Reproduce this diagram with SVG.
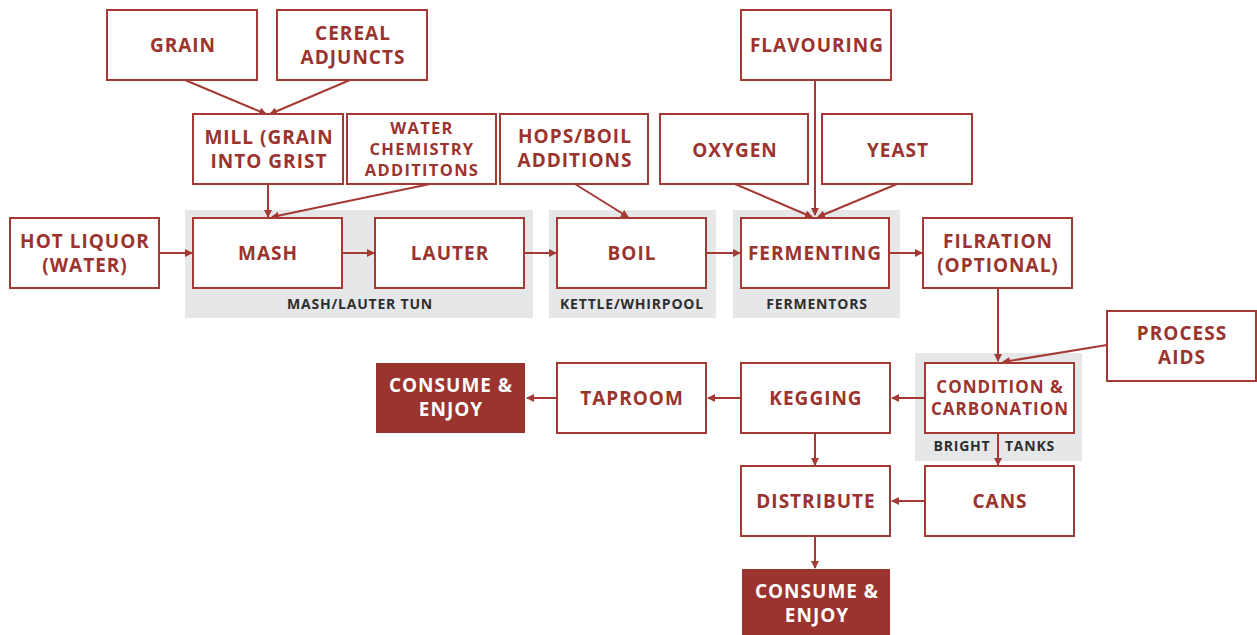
<svg xmlns="http://www.w3.org/2000/svg" width="1257" height="635" viewBox="0 0 1257 635">
<defs>
<style>
.b{fill:#fff;stroke:#a53a35;stroke-width:2}
.f{fill:#9b332e}
.g{fill:#e6e7e8}
.t{font-family:"Open Sans","Liberation Sans",sans-serif;font-weight:700;font-size:19px;letter-spacing:1px;fill:#9b332e;text-anchor:middle;dominant-baseline:central}
.tw{font-family:"Open Sans","Liberation Sans",sans-serif;font-weight:700;font-size:19px;letter-spacing:1px;fill:#fff;text-anchor:middle;dominant-baseline:central}
.s{font-size:17px}
.w3{font-size:16.5px;letter-spacing:1.3px}
.gl{font-family:"Open Sans","Liberation Sans",sans-serif;font-weight:700;font-size:14px;letter-spacing:0.8px;fill:#2e2e2e;text-anchor:middle;dominant-baseline:central}
.c{fill:none;stroke:#a53a35;stroke-width:2;marker-end:url(#ah)}
</style>
<marker id="ah" markerUnits="userSpaceOnUse" markerWidth="8" markerHeight="8" refX="7" refY="4" orient="auto">
<path d="M0,0 L8,4 L0,8 z" fill="#a53a35"/>
</marker>
</defs>
<rect width="1257" height="635" fill="#fff"/>
<g id="groups">
<rect class="g" x="185" y="210" width="348" height="108"/>
<text class="gl" x="360" y="303">MASH/LAUTER TUN</text>
<rect class="g" x="549" y="210" width="167" height="108"/>
<text class="gl" x="632" y="303">KETTLE/WHIRPOOL</text>
<rect class="g" x="733" y="210" width="167" height="108"/>
<text class="gl" x="817" y="303">FERMENTORS</text>
<rect class="g" x="915" y="353" width="167" height="108"/>
<text class="gl" x="962" y="445">BRIGHT</text>
<text class="gl" x="1030" y="445">TANKS</text>
</g>
<g id="connectors">
<line class="c" x1="185" y1="80" x2="266" y2="114"/>
<line class="c" x1="350" y1="80" x2="270" y2="114"/>
<line class="c" x1="268" y1="184" x2="268" y2="217"/>
<line class="c" x1="430" y1="184" x2="272" y2="217"/>
<line class="c" x1="159" y1="253" x2="192" y2="253"/>
<line class="c" x1="342" y1="253" x2="374" y2="253"/>
<line class="c" x1="524" y1="253" x2="556" y2="253"/>
<line class="c" x1="575" y1="184" x2="628" y2="217"/>
<line class="c" x1="706" y1="253" x2="740" y2="253"/>
<line class="c" x1="815" y1="80" x2="815" y2="215"/>
<line class="c" x1="735" y1="184" x2="812" y2="217"/>
<line class="c" x1="897" y1="184" x2="818" y2="217"/>
<line class="c" x1="889" y1="253" x2="922" y2="253"/>
<line class="c" x1="998" y1="288" x2="998" y2="361"/>
<line class="c" x1="1107" y1="345" x2="1003" y2="362"/>
<line class="c" x1="925" y1="398" x2="892" y2="398"/>
<line class="c" x1="741" y1="398" x2="708" y2="398"/>
<line class="c" x1="557" y1="398" x2="527" y2="398"/>
<line class="c" x1="998" y1="433" x2="998" y2="465"/>
<line class="c" x1="815" y1="433" x2="815" y2="465"/>
<line class="c" x1="925" y1="501" x2="892" y2="501"/>
<line class="c" x1="815" y1="536" x2="815" y2="568"/>
</g>
<g id="grain"><rect class="b" x="107" y="10" width="150" height="70"/><text class="t" x="183" y="45">GRAIN</text></g>
<g id="cereal"><rect class="b" x="277" y="10" width="150" height="70"/><text class="t" x="353" y="33">CEREAL</text><text class="t" x="353" y="57">ADJUNCTS</text></g>
<g id="mill"><rect class="b" x="193" y="114" width="150" height="70"/><text class="t" x="269" y="137">MILL (GRAIN</text><text class="t" x="269" y="161">INTO GRIST</text></g>
<g id="water"><rect class="b" x="347" y="114" width="149" height="70"/><text class="t w3" x="422" y="127">WATER</text><text class="t w3" x="422" y="148">CHEMISTRY</text><text class="t w3" x="422" y="169">ADDITITONS</text></g>
<g id="hops"><rect class="b" x="500" y="114" width="148" height="70"/><text class="t" x="575" y="136">HOPS/BOIL</text><text class="t" x="575" y="160">ADDITIONS</text></g>
<g id="oxygen"><rect class="b" x="660" y="114" width="148" height="70"/><text class="t" x="735" y="150">OXYGEN</text></g>
<g id="yeast"><rect class="b" x="822" y="114" width="150" height="70"/><text class="t" x="898" y="150">YEAST</text></g>
<g id="flavouring"><rect class="b" x="741" y="10" width="150" height="70"/><text class="t" x="817" y="45">FLAVOURING</text></g>
<g id="hotliquor"><rect class="b" x="10" y="218" width="149" height="70"/><text class="t" x="85" y="241">HOT LIQUOR</text><text class="t" x="85" y="265">(WATER)</text></g>
<g id="mash"><rect class="b" x="193" y="218" width="149" height="70"/><text class="t" x="268" y="253">MASH</text></g>
<g id="lauter"><rect class="b" x="375" y="218" width="149" height="70"/><text class="t" x="450" y="253">LAUTER</text></g>
<g id="boil"><rect class="b" x="557" y="218" width="149" height="70"/><text class="t" x="632" y="253">BOIL</text></g>
<g id="fermenting"><rect class="b" x="741" y="218" width="148" height="70"/><text class="t" x="815" y="253">FERMENTING</text></g>
<g id="filration"><rect class="b" x="923" y="218" width="149" height="70"/><text class="t" x="998" y="241">FILRATION</text><text class="t" x="998" y="265">(OPTIONAL)</text></g>
<g id="processaids"><rect class="b" x="1107" y="311" width="149" height="70"/><text class="t" x="1182" y="333">PROCESS</text><text class="t" x="1182" y="357">AIDS</text></g>
<g id="condition"><rect class="b" x="925" y="363" width="149" height="70"/><text class="t s" x="1000" y="386">CONDITION &amp;</text><text class="t s" x="1000" y="408">CARBONATION</text></g>
<g id="cans"><rect class="b" x="925" y="466" width="149" height="70"/><text class="t" x="1000" y="501">CANS</text></g>
<g id="kegging"><rect class="b" x="741" y="363" width="149" height="70"/><text class="t" x="816" y="398">KEGGING</text></g>
<g id="taproom"><rect class="b" x="557" y="363" width="149" height="70"/><text class="t" x="632" y="398">TAPROOM</text></g>
<g id="consume1"><rect class="f" x="376" y="363" width="149" height="70"/><text class="tw" x="451" y="385">CONSUME &amp;</text><text class="tw" x="451" y="409">ENJOY</text></g>
<g id="distribute"><rect class="b" x="741" y="466" width="149" height="70"/><text class="t" x="816" y="501">DISTRIBUTE</text></g>
<g id="consume2"><rect class="f" x="742" y="569" width="148" height="66"/><text class="tw" x="817" y="591">CONSUME &amp;</text><text class="tw" x="817" y="615">ENJOY</text></g>
</svg>
